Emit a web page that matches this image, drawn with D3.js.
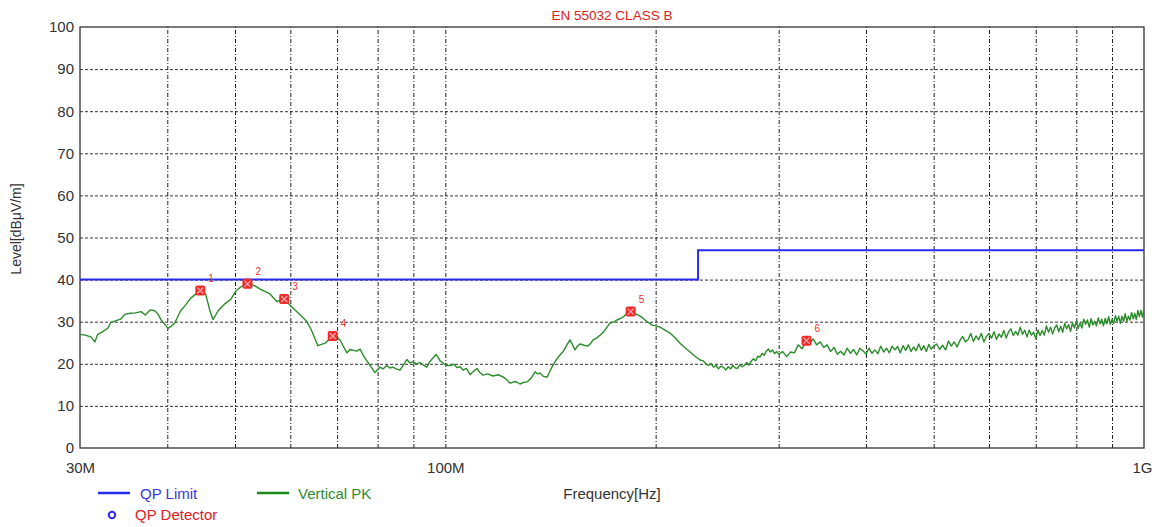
<!DOCTYPE html>
<html>
<head>
<meta charset="utf-8">
<script src="https://cdn.jsdelivr.net/npm/d3@7"></script>
<style>
  html, body { margin: 0; padding: 0; background: #fff; }
  svg { display: block; font-family: "Liberation Sans", Arial, sans-serif; }
</style>
</head>
<body>
<svg id="chart" width="1164" height="527"></svg>
<script>
// ---------------- DATA ----------------
const title = "EN 55032 CLASS B";
const yTicks = [0, 10, 20, 30, 40, 50, 60, 70, 80, 90, 100];
const xLabelTicks = [30, 100, 1000];
const xTickLabels = ["30M", "100M", "1G"];
const xGridFreqs = [40, 50, 60, 70, 80, 90, 100, 200, 300, 400, 500, 600, 700, 800, 900];

// QP limit (MHz, dBµV/m)
const limitFreq = [30, 230, 230, 1000];
const limitLevel = [40, 40, 47, 47];

// Vertical PK trace (MHz)
const pkFreq = [
  30.0, 30.5, 31.1, 31.5, 31.8, 32.3, 32.9, 33.2, 33.7, 34.3, 34.8, 35.4, 36.0, 36.7, 37.2, 37.8, 38.4, 38.8, 39.2, 39.7,
  40.1, 40.5, 41.0, 41.8, 42.5, 43.2, 44.0, 44.6, 45.4, 46.0, 46.5, 47.3, 48.4, 49.3, 50.2, 51.0, 51.7, 52.5, 53.4, 54.5,
  56.1, 57.4, 58.6, 59.5, 60.3, 61.9, 63.4, 64.4, 65.7, 67.3, 68.8, 69.6, 70.7, 72.3, 73.0, 74.7, 75.5, 76.2, 77.0, 78.0,
  79.3, 80.0, 80.6, 81.5, 82.5, 83.3, 84.1, 85.0, 86.1, 87.0, 88.1, 89.0, 89.9, 91.0, 92.0, 93.0, 94.1, 95.0, 96.0, 97.0,
  97.6, 98.4, 99.2, 100.4, 101.6, 102.8, 103.9, 105.0, 106.0, 107.2, 108.5, 109.7, 111.0, 112.0, 113.2, 115.0, 117.0, 119.0, 120.9, 122.3,
  123.8, 126.0, 127.9, 129.5, 130.9, 132.7, 134.4, 135.5, 136.6, 138.2, 139.8, 141.2, 142.6, 144.2, 145.9, 147.6, 149.3, 150.8, 152.0, 153.3,
  154.6, 155.9, 158.0, 160.0, 161.4, 162.7, 164.6, 166.5, 168.5, 170.4, 172.1, 174.1, 176.1, 177.8, 179.6, 181.7, 183.8, 186.2, 188.7, 191.0,
  193.1, 195.3, 197.6, 200.2, 202.9, 206.3, 209.7, 213.2, 216.7, 220.3, 224.0, 227.7, 231.5,
  234, 236, 238, 240, 242, 244, 246, 248, 250, 252, 254, 256, 258, 260, 262, 264, 266, 268, 270,
  272, 274, 276, 278, 280, 282, 284, 286, 288, 290, 292, 294, 296, 298, 300,
  304, 308, 312, 316, 320, 324, 328, 332, 336, 340, 344, 348, 352, 356, 360, 364, 368, 372, 376, 380,
  384, 388, 392, 396, 400, 404, 408, 412, 416, 420, 424, 428, 432, 436, 440, 444, 448, 452, 456, 460,
  464, 468, 472, 476, 480, 484, 488, 492, 496, 500,
  505, 510, 515, 520, 525, 530, 535, 540, 545, 550, 555, 560, 565, 570, 575, 580, 585, 590, 595, 600,
  605, 610, 615, 620, 625, 630, 635, 640, 645, 650, 655, 660, 665, 670, 675, 680, 685, 690, 695, 700,
  705, 710, 715, 720, 725, 730, 735, 740, 745, 750, 755, 760, 765, 770, 775, 780, 785, 790, 795, 800,
  805, 810, 815, 820, 825, 830, 835, 840, 845, 850, 855, 860, 865, 870, 875, 880, 885, 890, 895, 900,
  905, 910, 915, 920, 925, 930, 935, 940, 945, 950, 955, 960, 965, 970, 975, 980, 985, 990, 995, 1000
];
const pkLevel = [
  27.0, 26.8, 26.4, 25.2, 27.0, 27.6, 28.5, 29.8, 30.2, 30.6, 31.8, 32.0, 32.1, 32.4, 31.6, 32.8, 32.6, 31.8, 30.4, 29.3,
  28.4, 28.9, 29.7, 32.6, 34.0, 35.6, 36.6, 37.3, 36.5, 32.8, 30.5, 32.6, 34.3, 35.3, 37.4, 38.3, 38.8, 38.9, 38.5, 37.6,
  36.6, 34.8, 35.3, 34.5, 33.5, 31.7, 30.0, 27.8, 24.3, 24.9, 26.5, 26.8, 25.6, 22.6, 23.4, 23.0, 23.5, 22.2, 21.0, 19.7,
  17.9, 18.6, 19.2, 18.8, 19.6, 19.0, 19.2, 18.8, 18.5, 19.6, 21.0, 20.2, 20.5, 20.0, 20.3, 19.7, 19.2, 20.5, 21.4, 22.2,
  21.6, 20.6, 20.2, 19.6, 19.6, 19.9, 19.1, 19.3, 18.5, 18.9, 17.4, 18.2, 18.9, 18.0, 17.3, 17.6, 17.1, 17.4, 16.9, 16.3,
  15.4, 15.8, 15.2, 15.6, 15.7, 16.6, 18.1, 17.6, 17.8, 17.0, 16.8, 18.3, 19.7, 21.0, 22.1, 23.0, 24.5, 25.7, 24.6, 23.3,
  24.2, 24.7, 24.4, 24.2, 24.8, 25.7, 26.1, 26.8, 27.6, 28.7, 29.7, 29.9, 30.4, 30.7, 31.1, 31.8, 32.3, 32.0, 31.6, 31.1,
  30.4, 29.8, 29.2, 29.0, 28.7, 28.0, 27.3, 26.2, 24.9, 23.8, 22.8, 21.8, 20.9,
  20.7, 20.0, 19.6, 20.1, 19.2, 19.6, 18.8, 19.4, 19.2, 18.5, 19.3, 18.8, 19.6, 19.0, 18.9, 19.8, 19.3, 19.6, 20.3,
  19.7, 20.6, 21.2, 20.7, 21.8, 21.6, 22.5, 22.0, 23.0, 23.5, 22.8, 23.3, 22.4, 22.9, 22.3,
  22.9, 21.7, 22.8, 22.6, 24.5, 23.6, 25.2, 24.8, 25.9, 24.5, 25.2, 23.9, 24.5, 22.9, 23.9, 22.3, 23.0, 22.1, 23.7, 22.5,
  23.4, 22.1, 23.7, 23.1, 22.3, 23.7, 22.5, 23.3, 22.4, 24.2, 22.8, 23.7, 22.6, 24.2, 23.3, 24.1, 22.6, 24.3, 23.2, 24.5,
  22.9, 24.0, 23.1, 24.7, 23.2, 24.3, 22.9, 24.6, 23.5, 24.2,
  24.7, 23.4, 24.4, 23.3, 25.4, 24.2, 25.2, 24.0, 25.5, 26.5, 25.2, 25.7, 27.2, 25.3, 26.6, 25.7, 27.2, 25.2, 26.5, 27.2,
  26.1, 27.6, 25.8, 27.1, 26.3, 27.9, 26.1, 27.6, 28.3, 26.7, 27.7, 26.8, 28.7, 27.0, 28.0, 26.4, 28.0, 26.8, 27.5, 26.0,
  28.0, 26.7, 27.9, 26.8, 29.0, 27.5, 28.7, 27.1, 28.5, 29.2, 27.6, 28.9, 27.5, 29.6, 28.3, 29.3, 27.7, 29.7, 28.5, 30.1,
  28.4, 29.7, 28.5, 30.6, 29.4, 30.4, 28.7, 30.7, 29.2, 30.1, 29.0, 30.9, 29.5, 30.6, 29.0, 30.8, 29.5, 31.2, 29.4, 30.6,
  29.6, 31.4, 30.1, 31.3, 29.6, 31.3, 30.1, 31.9, 30.1, 31.3, 30.4, 32.2, 30.7, 32.0, 30.5, 32.7, 31.2, 32.7, 31.1, 33.0
];

// QP detector markers
const markerLabels = ["1", "2", "3", "4", "5", "6"];
const markerFreq = [44.6, 52.1, 58.8, 69.0, 184.2, 328.8];
const markerLevel = [37.4, 39.0, 35.4, 26.6, 32.4, 25.5];

// Legend
const legendNames = ["QP Limit", "Vertical PK", "QP Detector"];

// ---------------- DRAW ----------------
const svg = d3.select("#chart");
const L = 80, R = 1144, T = 27, B = 448;

const x = d3.scaleLog().domain([30, 1000]).range([L, R]);
const y = d3.scaleLinear().domain([0, 100]).range([B, T]);

// Horizontal grid
const gy = svg.append("g").attr("transform", `translate(${L},0)`)
  .call(d3.axisLeft(y).tickValues(yTicks.slice(1, -1)).tickSize(-(R - L)).tickFormat(""));
gy.select(".domain").remove();
gy.selectAll("line").attr("stroke", "#333").attr("stroke-width", 1).attr("stroke-dasharray", "3,2");

// Vertical grid
const gx = svg.append("g").attr("transform", `translate(0,${B})`)
  .call(d3.axisBottom(x).tickValues(xGridFreqs).tickSize(-(B - T)).tickFormat(""));
gx.select(".domain").remove();
gx.selectAll("line").attr("stroke", "#222").attr("stroke-width", 1).attr("stroke-dasharray", "4,2,1,2");

// Frame
svg.append("rect").attr("x", L).attr("y", T).attr("width", R - L).attr("height", B - T)
  .attr("fill", "none").attr("stroke", "#333").attr("stroke-width", 1.3);

// Y axis labels
const ay = svg.append("g").attr("transform", `translate(${L},0)`)
  .call(d3.axisLeft(y).tickValues(yTicks).tickSize(0).tickPadding(6));
ay.select(".domain").remove();
ay.selectAll("text").attr("font-size", 15).attr("fill", "#333").attr("font-family", "Liberation Sans, Arial, sans-serif");

// X axis labels
const ax = svg.append("g").attr("transform", `translate(0,${B})`)
  .call(d3.axisBottom(x).tickValues(xLabelTicks).tickSize(0).tickPadding(14)
    .tickFormat((d, i) => xTickLabels[i]));
ax.select(".domain").remove();
ax.selectAll("text").attr("font-size", 15).attr("fill", "#333").attr("font-family", "Liberation Sans, Arial, sans-serif");
ax.selectAll("text").filter((d, i) => i === 2).attr("text-anchor", "middle").attr("dx", -2);

// Title
svg.append("text").attr("x", (L + R) / 2).attr("y", 20).attr("text-anchor", "middle")
  .attr("font-size", 13.5).attr("fill", "#e02020").text(title);

// Axis titles
svg.append("text").attr("x", (L + R) / 2).attr("y", 499).attr("text-anchor", "middle")
  .attr("font-size", 15).attr("fill", "#333").text("Frequency[Hz]");
svg.append("text").attr("transform", "translate(21,229) rotate(-90)").attr("text-anchor", "middle")
  .attr("font-size", 14).attr("fill", "#333").text("Level[dBμV/m]");

// Vertical PK trace
const pkData = pkFreq.map((f, i) => [f, pkLevel[i]]);
svg.append("path").datum(pkData)
  .attr("fill", "none").attr("stroke", "#2a8c2a").attr("stroke-width", 1.4).attr("stroke-linejoin", "round")
  .attr("d", d3.line().x(d => x(d[0])).y(d => y(d[1])));

// Limit line
const limData = limitFreq.map((f, i) => [f, limitLevel[i]]);
svg.append("path").datum(limData)
  .attr("fill", "none").attr("stroke", "#2a2aee").attr("stroke-width", 2)
  .attr("d", d3.line().x(d => x(d[0])).y(d => y(d[1])));

// Markers
const mk = svg.append("g").selectAll("g").data(markerFreq.map((f, i) => ({ f, v: markerLevel[i], t: markerLabels[i] })))
  .join("g").attr("transform", d => `translate(${x(d.f)},${y(d.v)})`);
mk.append("rect").attr("x", -5).attr("y", -5).attr("width", 10).attr("height", 10).attr("rx", 2)
  .attr("fill", "#ee2a2a");
mk.append("path").attr("d", "M-3,-3L3,3M3,-3L-3,3").attr("stroke", "#ffb0b0").attr("stroke-width", 1.2);
mk.append("text").attr("x", 8).attr("y", -9).attr("font-size", 10).attr("fill", "#e83030").text(d => d.t);

// Legend
const lg = svg.append("g");
lg.append("line").attr("x1", 98).attr("x2", 130).attr("y1", 493).attr("y2", 493).attr("stroke", "#2a2aee").attr("stroke-width", 2.5);
lg.append("text").attr("x", 140).attr("y", 499).attr("font-size", 15).attr("fill", "#3a3ae0").text(legendNames[0]);
lg.append("line").attr("x1", 257).attr("x2", 289).attr("y1", 493).attr("y2", 493).attr("stroke", "#1a8a1a").attr("stroke-width", 2.5);
lg.append("text").attr("x", 298).attr("y", 499).attr("font-size", 15).attr("fill", "#2e8b2e").text(legendNames[1]);
lg.append("circle").attr("cx", 112).attr("cy", 515).attr("r", 3.2).attr("fill", "none").attr("stroke", "#2a2aee").attr("stroke-width", 2);
lg.append("text").attr("x", 135).attr("y", 520).attr("font-size", 15).attr("fill", "#e02020").text(legendNames[2]);
</script>
</body>
</html>
